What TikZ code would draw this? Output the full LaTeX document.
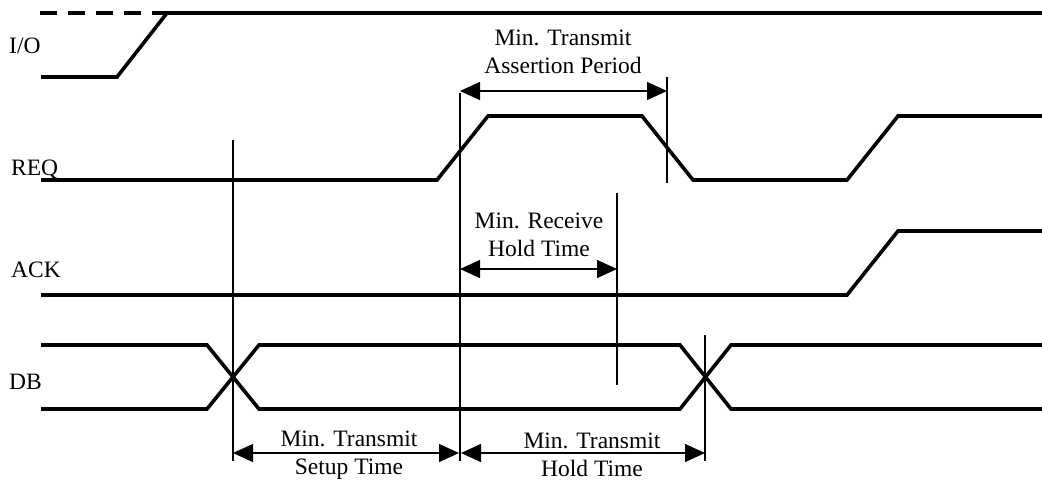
\documentclass[tikz,border=0pt]{standalone}
\usepackage{fontspec}
\setmainfont{Liberation Serif}
\usetikzlibrary{arrows.meta}
\begin{document}
\begin{tikzpicture}[x=1pt,y=-1pt,
  sig/.style={line width=3.6pt},
  guide/.style={line width=1.3pt},
  dim/.style={line width=1.3pt,{Triangle[length=20pt,width=18pt]}-{Triangle[length=20pt,width=18pt]}},
  lbl/.style={font=\fontsize{23.5}{28}\selectfont,inner sep=0pt},
  note/.style={lbl,align=center}]
\useasboundingbox (0,0) rectangle (1042,483);
% I/O
\draw[sig,dash pattern=on 17pt off 11pt] (40,13) -- (155,13);
\draw[sig] (155,13) -- (1042,13);
\draw[sig] (41,77) -- (117,77) -- (167,13);
% REQ
\draw[sig] (41,180) -- (437,180) -- (488,116) -- (642,116) -- (693,180) -- (847,180) -- (898,116) -- (1042,116);
% ACK
\draw[sig] (41,295) -- (847,295) -- (898,231) -- (1042,231);
% DB
\draw[sig] (41,345) -- (207,345) -- (259,409) -- (680,409) -- (731,345) -- (1042,345);
\draw[sig] (41,409) -- (207,409) -- (259,345) -- (680,345) -- (731,409) -- (1042,409);
% guides
\coordinate (g1t) at (233,140); \coordinate (g1b) at (233,461);
\coordinate (g2t) at (460,93);  \coordinate (g2b) at (460,461);
\coordinate (g3t) at (667,77);  \coordinate (g3b) at (667,183);
\coordinate (g4t) at (617,193); \coordinate (g4b) at (617,385);
\coordinate (g5t) at (705,335); \coordinate (g5b) at (705,461);
\foreach \g in {g1,g2,g3,g4,g5} \draw[guide] (\g t) -- (\g b);
% dimension arrows
\coordinate (apL) at (460,91);  \coordinate (apR) at (667,91);
\coordinate (rhL) at (460,269); \coordinate (rhR) at (617,269);
\coordinate (stL) at (233,453); \coordinate (stR) at (460,453);
\coordinate (htL) at (460,453); \coordinate (htR) at (705,453);
\draw[dim] (apL) -- (apR);
\draw[dim] (rhL) -- (rhR);
\draw[dim] (stL) -- ([xshift=-1pt]stR);
\draw[dim] ([xshift=1pt]htL) -- (htR);
% signal names
\node[lbl,anchor=base west] (io)  at (9,53)   {I/O};
\node[lbl,anchor=base west] (req) at (11,175) {REQ};
\node[lbl,anchor=base west] (ack) at (11,277) {ACK};
\node[lbl,anchor=base west] (db)  at (9,389)  {DB};
% notes
\node[note] (tap) at (563,52)  {Min. Transmit\\Assertion Period};
\node[note] (rht) at (539,235) {Min. Receive\\Hold Time};
\node[note] (tst) at (349,455) {Min. Transmit\\Setup Time};
\node[note] (tht) at (592,455) {Min. Transmit\\Hold Time};
\end{tikzpicture}
\end{document}
